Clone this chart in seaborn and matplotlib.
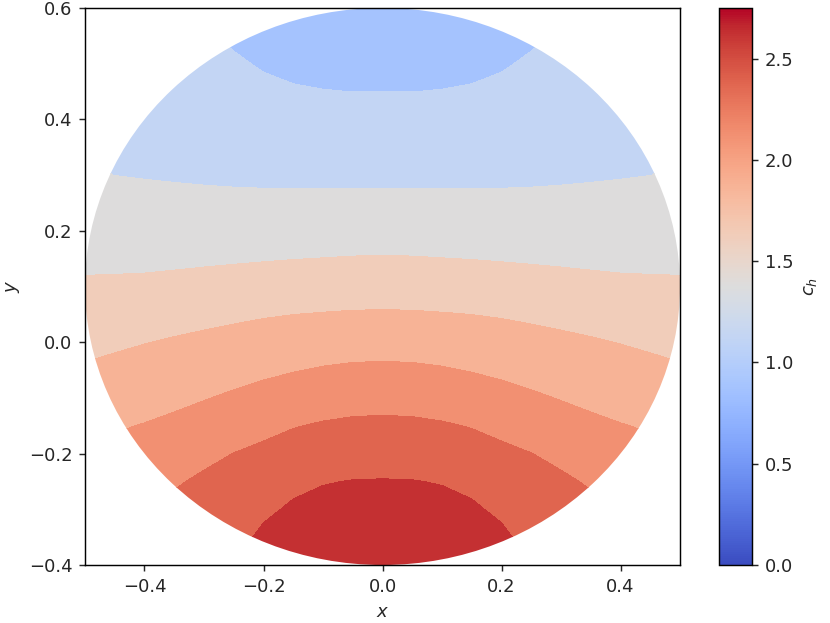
import numpy as np
import matplotlib
matplotlib.use("Agg")
import matplotlib.pyplot as plt
import matplotlib.patches as mpatches
from matplotlib.colors import Normalize
from matplotlib.cm import ScalarMappable
import seaborn as sns

# sample positions of the c_h table
x_nodes = [-0.5, -0.45, -0.4, -0.35, -0.3, -0.25, -0.2, -0.15, -0.1, -0.05, 0.0,
           0.05, 0.1, 0.15, 0.2, 0.25, 0.3, 0.35, 0.4, 0.45, 0.5]
y_nodes = [-0.4, -0.35, -0.3, -0.25, -0.2, -0.15, -0.1, -0.05, 0.0, 0.05, 0.1,
           0.15, 0.2, 0.25, 0.3, 0.35, 0.4, 0.45, 0.5, 0.55, 0.6]

# c_h values, one row per y_node (bottom to top), one column per x_node
c_h = [
    [2.249, 2.310, 2.370, 2.420, 2.490, 2.506, 2.596, 2.650, 2.681, 2.696, 2.700,
     2.696, 2.681, 2.650, 2.596, 2.506, 2.490, 2.420, 2.370, 2.310, 2.249],
    [2.192, 2.248, 2.314, 2.370, 2.440, 2.443, 2.533, 2.587, 2.618, 2.633, 2.637,
     2.633, 2.618, 2.587, 2.533, 2.443, 2.440, 2.370, 2.314, 2.248, 2.192],
    [2.137, 2.182, 2.242, 2.308, 2.377, 2.380, 2.469, 2.523, 2.554, 2.569, 2.574,
     2.569, 2.554, 2.523, 2.469, 2.380, 2.377, 2.308, 2.242, 2.182, 2.137],
    [2.083, 2.117, 2.164, 2.225, 2.289, 2.316, 2.377, 2.461, 2.491, 2.506, 2.510,
     2.506, 2.491, 2.461, 2.377, 2.316, 2.289, 2.225, 2.164, 2.117, 2.083],
    [2.029, 2.051, 2.087, 2.135, 2.193, 2.253, 2.295, 2.340, 2.378, 2.400, 2.407,
     2.400, 2.378, 2.340, 2.295, 2.253, 2.193, 2.135, 2.087, 2.051, 2.029],
    [1.958, 1.981, 2.009, 2.045, 2.091, 2.143, 2.195, 2.240, 2.271, 2.290, 2.296,
     2.290, 2.271, 2.240, 2.195, 2.143, 2.091, 2.045, 2.009, 1.981, 1.958],
    [1.866, 1.893, 1.922, 1.954, 1.990, 2.031, 2.075, 2.115, 2.147, 2.167, 2.174,
     2.167, 2.147, 2.115, 2.075, 2.031, 1.990, 1.954, 1.922, 1.893, 1.866],
    [1.774, 1.805, 1.833, 1.863, 1.893, 1.925, 1.958, 1.990, 2.018, 2.036, 2.042,
     2.036, 2.018, 1.990, 1.958, 1.925, 1.893, 1.863, 1.833, 1.805, 1.774],
    [1.690, 1.716, 1.744, 1.771, 1.796, 1.821, 1.846, 1.870, 1.889, 1.903, 1.908,
     1.903, 1.889, 1.870, 1.846, 1.821, 1.796, 1.771, 1.744, 1.716, 1.690],
    [1.609, 1.625, 1.643, 1.666, 1.690, 1.712, 1.733, 1.749, 1.760, 1.769, 1.772,
     1.769, 1.760, 1.749, 1.733, 1.712, 1.690, 1.666, 1.643, 1.625, 1.609],
    [1.528, 1.534, 1.542, 1.557, 1.574, 1.591, 1.608, 1.622, 1.631, 1.639, 1.642,
     1.639, 1.631, 1.622, 1.608, 1.591, 1.574, 1.557, 1.542, 1.534, 1.528],
    [1.458, 1.456, 1.455, 1.460, 1.468, 1.477, 1.486, 1.496, 1.503, 1.510, 1.513,
     1.510, 1.503, 1.496, 1.486, 1.477, 1.468, 1.460, 1.455, 1.456, 1.458],
    [1.395, 1.386, 1.378, 1.376, 1.379, 1.383, 1.388, 1.393, 1.397, 1.401, 1.402,
     1.401, 1.397, 1.393, 1.388, 1.383, 1.379, 1.376, 1.378, 1.386, 1.395],
    [1.332, 1.316, 1.301, 1.292, 1.289, 1.288, 1.289, 1.291, 1.292, 1.293, 1.293,
     1.293, 1.292, 1.291, 1.289, 1.288, 1.289, 1.292, 1.301, 1.316, 1.332],
    [1.269, 1.249, 1.241, 1.235, 1.228, 1.221, 1.215, 1.211, 1.209, 1.208, 1.208,
     1.208, 1.209, 1.211, 1.215, 1.221, 1.228, 1.235, 1.241, 1.249, 1.269],
    [1.237, 1.227, 1.216, 1.204, 1.189, 1.172, 1.157, 1.146, 1.141, 1.139, 1.138,
     1.139, 1.141, 1.146, 1.157, 1.172, 1.189, 1.204, 1.216, 1.227, 1.237],
    [1.218, 1.206, 1.191, 1.173, 1.150, 1.123, 1.099, 1.082, 1.073, 1.069, 1.068,
     1.069, 1.073, 1.082, 1.099, 1.123, 1.150, 1.173, 1.191, 1.206, 1.218],
    [1.199, 1.184, 1.166, 1.142, 1.111, 1.074, 1.041, 1.017, 1.005, 0.999, 0.999,
     0.999, 1.005, 1.017, 1.041, 1.074, 1.111, 1.142, 1.166, 1.184, 1.199],
    [1.180, 1.163, 1.141, 1.111, 1.072, 1.025, 0.982, 0.956, 0.945, 0.940, 0.940,
     0.940, 0.945, 0.956, 0.982, 1.025, 1.072, 1.111, 1.141, 1.163, 1.180],
    [1.162, 1.142, 1.116, 1.080, 1.033, 0.970, 0.922, 0.896, 0.885, 0.880, 0.879,
     0.880, 0.885, 0.896, 0.922, 0.970, 1.033, 1.080, 1.116, 1.142, 1.162],
    [1.143, 1.120, 1.091, 1.049, 0.992, 0.910, 0.862, 0.836, 0.825, 0.820, 0.820,
     0.820, 0.825, 0.836, 0.862, 0.910, 0.992, 1.049, 1.091, 1.120, 1.143],
]

levels = [0.75, 1.0, 1.25, 1.5, 1.75, 2.0, 2.25, 2.5, 2.75]
c_min, c_max = 0.0, 2.75

sns.set_style("ticks")
cmap = sns.color_palette("coolwarm", as_cmap=True)
norm = Normalize(vmin=c_min, vmax=c_max)

fig = plt.figure(figsize=(830 / 130, 623 / 130), dpi=130)
ax = fig.add_axes([0.1024, 0.0931, 0.7169, 0.8941])
cax = fig.add_axes([0.866, 0.0931, 0.040, 0.8941])

X, Y = np.meshgrid(x_nodes, y_nodes)
cs = ax.contourf(X, Y, np.array(c_h), levels=levels, cmap=cmap, norm=norm)

# the domain is a disk, clip the bands to it
disk = mpatches.Circle((0.0, 0.1), 0.5, transform=ax.transData)
cs.set_clip_path(disk)

ax.set_xlim(-0.5, 0.5)
ax.set_ylim(-0.4, 0.6)
ax.set_xlabel("$x$")
ax.set_ylabel("$y$")
for s in ax.spines.values():
    s.set_color("black")

cb = fig.colorbar(ScalarMappable(norm=norm, cmap=cmap), cax=cax)
cb.set_label("$c_h$")
cb.outline.set_edgecolor("black")

fig.savefig("out.png", dpi=130)
